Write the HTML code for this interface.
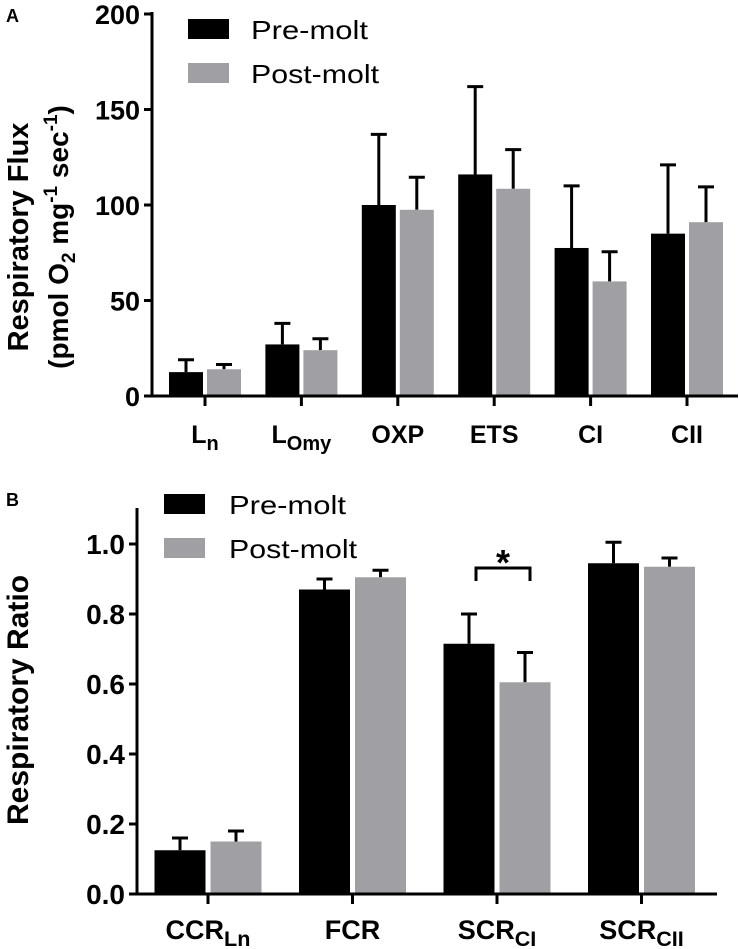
<!DOCTYPE html>
<html><head><meta charset="utf-8"><style>
html,body{margin:0;padding:0;background:#fff}
svg{display:block;font-family:"Liberation Sans",Arial,sans-serif}
</style></head><body>
<svg id="chart" width="739" height="949" viewBox="0 0 739 949">
<g id="pa"></g>
<g id="pb"></g>
</svg>
<script>
// Panel A data
const catsA = ["Ln","LOmy","OXP","ETS","CI","CII"];
const preA = [12.5, 27, 100, 116, 77.5, 85];
const preErrA = [6.5, 11, 37, 46, 32.5, 36];
const postA = [14, 24, 97.5, 108.5, 60, 91];
const postErrA = [2.5, 6, 17, 20.5, 15.5, 18.5];
const ticksA = [0, 50, 100, 150, 200];
// Panel B data
const catsB = ["CCRLn","FCR","SCRCI","SCRCII"];
const preB = [0.125, 0.87, 0.715, 0.945];
const preErrB = [0.035, 0.03, 0.085, 0.06];
const postB = [0.15, 0.905, 0.605, 0.935];
const postErrB = [0.03, 0.02, 0.085, 0.025];
const ticksB = [0.0, 0.2, 0.4, 0.6, 0.8, 1.0];
const tickLabelsB = ["0.0","0.2","0.4","0.6","0.8","1.0"];

const NS = "http://www.w3.org/2000/svg";
function mk(parent, tag, attrs, text){
  const e = document.createElementNS(NS, tag);
  for (const k in attrs) e.setAttribute(k, attrs[k]);
  if (text !== undefined) e.textContent = text;
  parent.appendChild(e);
  return e;
}
function catLabel(g, x, y, main, sub, size){
  const t = mk(g, "text", {x:x, y:y, "text-anchor":"middle", "font-size":size, "font-weight":"bold"});
  
  
  mk(t, "tspan", {}, main);
  if (sub) mk(t, "tspan", {"font-size": size*0.8, dy: 7}, sub);
  return t;
}
function panel(g, o){
  const y = v => o.y0 - (v - o.min) / (o.max - o.min) * (o.y0 - o.yTop);
  const xc = i => o.x0c + i * o.step;
  o.pre.forEach((v,i)=>{
    const x = xc(i) - o.gap/2 - o.bw;
    const top = y(v + o.preErr[i]);
    const eb = mk(g,"path",{d:`M${x+o.bw/2},${y(v)}V${top}M${x+o.bw/2-8},${top}H${x+o.bw/2+8}`,stroke:"#000","stroke-width":3,fill:"none"});
    
    
    const r = mk(g,"rect",{x:x,y:y(v),width:o.bw,height:o.y0-y(v),fill:"#000"});
    
    
  });
  o.post.forEach((v,i)=>{
    const x = xc(i) + o.gap/2;
    const top = y(v + o.postErr[i]);
    const eb = mk(g,"path",{d:`M${x+o.bw/2},${y(v)}V${top}M${x+o.bw/2-8},${top}H${x+o.bw/2+8}`,stroke:"#000","stroke-width":3,fill:"none"});
    
    
    const r = mk(g,"rect",{x:x,y:y(v),width:o.bw,height:o.y0-y(v),fill:"#a0a0a4"});
    
    
  });
  const ya = mk(g,"line",{x1:o.ax,y1:o.axisTop,x2:o.ax,y2:o.y0+1.5,stroke:"#000","stroke-width":3});
  
  
  const xa = mk(g,"line",{x1:o.ax-1.5,y1:o.y0,x2:o.xEnd,y2:o.y0,stroke:"#000","stroke-width":3});
  
  
  o.ticks.forEach((t,i)=>{
    mk(g,"line",{x1:o.ax-8,y1:y(t),x2:o.ax,y2:y(t),stroke:"#000","stroke-width":3});
    const tl = mk(g,"text",{x:o.ax-12,y:y(t)+10,"text-anchor":"end","font-size":o.tickSize,"font-weight":"bold"}, o.tickLabels[i]);
    
    
  });
  o.cats.forEach((c,i)=>{
    mk(g,"line",{x1:xc(i),y1:o.y0,x2:xc(i),y2:o.y0+10,stroke:"#000","stroke-width":3});
    catLabel(g, xc(i), o.y0+o.labOff, o.labels[i][0], o.labels[i][1], o.labSize);
  });
  return {y, xc};
}
const ga = document.getElementById("pa");
panel(ga, {cats:catsA, pre:preA, preErr:preErrA, post:postA, postErr:postErrA,
  ticks:ticksA, tickLabels:ticksA.map(String), min:0, max:200, y0:396, yTop:14, axisTop:12,
  ax:152, xEnd:738, x0c:205, step:96.4, bw:34, gap:4, tickSize:27, labSize:25, labOff:47,
  labels:[["L","n"],["L","Omy"],["OXP",""],["ETS",""],["CI",""],["CII",""]]});
const gb = document.getElementById("pb");
panel(gb, {cats:catsB, pre:preB, preErr:preErrB, post:postB, postErr:postErrB,
  ticks:ticksB, tickLabels:tickLabelsB, min:0, max:1.0, y0:894, yTop:544, axisTop:508,
  ax:137, xEnd:717, x0c:208, step:144.5, bw:51, gap:5, tickSize:28, labSize:27, labOff:45,
  labels:[["CCR","Ln"],["FCR",""],["SCR","CI"],["SCR","CII"]]});
const br = mk(gb,"path",{d:"M476,581V568H530V581",stroke:"#000","stroke-width":3,fill:"none"});


const st = mk(gb,"text",{x:503,y:575,"text-anchor":"middle","font-size":36,"font-weight":"bold"},"*");


function legend(g, x, y1, y2, tx){
  const a = mk(g,"rect",{x:x,y:y1,width:41,height:20,fill:"#000"});
  
  
  const at = mk(g,"text",{x:tx,y:y1+20,"font-size":26,textLength:117,lengthAdjust:"spacingAndGlyphs"},"Pre-molt");
  
  
  const b = mk(g,"rect",{x:x,y:y2,width:41,height:20,fill:"#a0a0a4"});
  
  
  const bt = mk(g,"text",{x:tx,y:y2+20,"font-size":26,textLength:128,lengthAdjust:"spacingAndGlyphs"},"Post-molt");
  
  
}
legend(ga, 188, 19, 63, 251);
legend(gb, 164, 494, 538, 229);
const la = mk(ga,"text",{x:6,y:22,"font-size":18,"font-weight":"bold"},"A");


const lb = mk(gb,"text",{x:6,y:506,"font-size":18,"font-weight":"bold"},"B");


const t1 = mk(ga,"text",{transform:"translate(28,237) rotate(-90)","text-anchor":"middle","font-size":29,"font-weight":"bold"},"Respiratory Flux");


const t2 = mk(ga,"text",{transform:"translate(68,237) rotate(-90)","text-anchor":"middle","font-size":28,"font-weight":"bold"});


mk(t2,"tspan",{},"(pmol O");
mk(t2,"tspan",{"font-size":19,dy:7},"2");
mk(t2,"tspan",{dy:-7}," mg");
mk(t2,"tspan",{"font-size":19,dy:-11},"-1");
mk(t2,"tspan",{dy:11}," sec");
mk(t2,"tspan",{"font-size":19,dy:-11},"-1");
mk(t2,"tspan",{dy:11},")");
const t3 = mk(gb,"text",{transform:"translate(28,700) rotate(-90)","text-anchor":"middle","font-size":30,"font-weight":"bold"},"Respiratory Ratio");


</script>
</body></html>
